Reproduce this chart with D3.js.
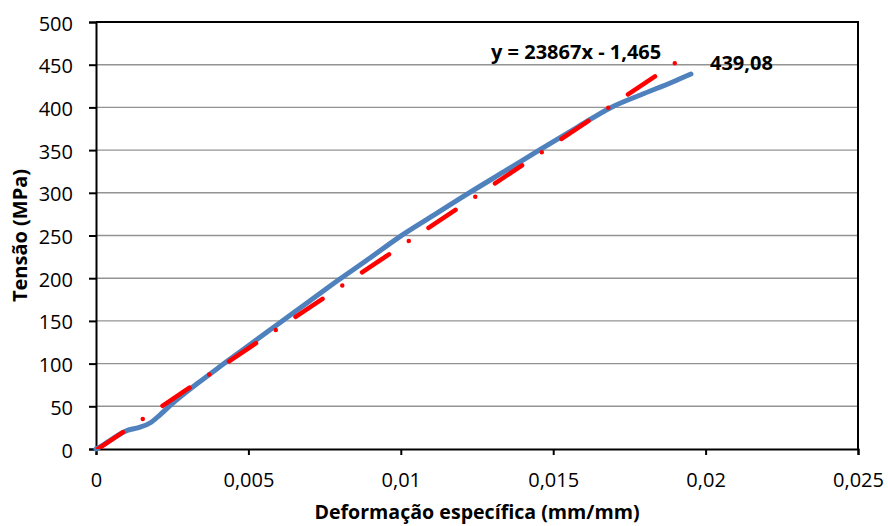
<!DOCTYPE html>
<html>
<head>
<meta charset="utf-8">
<script src="https://cdn.jsdelivr.net/npm/d3@7"></script>
<style>
  body { margin: 0; background: #fff; }
  svg { display: block; font-family: 'Open Sans', sans-serif; }
</style>
</head>
<body>
<svg id="chart" width="888" height="526"></svg>
<script>
// strain (mm/mm) and stress (MPa)
const strain = [0, 0.0002, 0.0005, 0.00105, 0.0014, 0.0018, 0.0021, 0.0025, 0.0033, 0.0042,
  0.005, 0.006, 0.007, 0.008, 0.009, 0.0099, 0.011, 0.0122, 0.0134, 0.0145,
  0.0158, 0.0169, 0.018, 0.0189, 0.01952];
const stress = [0, 4, 11, 22, 25, 31, 40, 53, 76, 100,
  121, 147, 173, 199, 224, 247, 272, 299, 325, 349,
  377, 400, 416.5, 429.5, 439.08];

// linear trendline shown on the chart
const trendSlope = 23867;
const trendIntercept = -1.465;
const trendLabel = 'y = 23867x - 1,465';
const maxLabel = '439,08';

const xTicks = [0, 0.005, 0.01, 0.015, 0.02, 0.025];
const xTickLabels = ['0', '0,005', '0,01', '0,015', '0,02', '0,025'];
const yTicks = [0, 50, 100, 150, 200, 250, 300, 350, 400, 450, 500];

const xTitle = 'Deformação específica (mm/mm)';
const yTitle = 'Tensão (MPa)';

const width = 888;
const height = 526;
const margin = { top: 22, right: 30, bottom: 77, left: 96 };

const svg = d3.select('#chart');

const x = d3
  .scaleLinear()
  .domain([0, 0.025])
  .range([margin.left, width - margin.right]);
const y = d3
  .scaleLinear()
  .domain([0, 500])
  .range([height - margin.bottom, margin.top]);

svg
  .append('defs')
  .append('clipPath')
  .attr('id', 'plotClip')
  .append('rect')
  .attr('x', margin.left)
  .attr('y', margin.top)
  .attr('width', x(0.025) - margin.left)
  .attr('height', y(0) - margin.top);

// gridlines
svg
  .append('g')
  .selectAll('line')
  .data(yTicks.filter(d => d > 0 && d < 500))
  .join('line')
  .attr('x1', x(0))
  .attr('x2', x(0.025))
  .attr('y1', d => y(d))
  .attr('y2', d => y(d))
  .style('stroke', '#939393')
  .style('stroke-width', 1.4);

// frame (top and right)
svg
  .append('path')
  .attr('d', `M${x(0)},${y(500)}H${x(0.025)}V${y(0)}`)
  .style('fill', 'none')
  .style('stroke', '#000')
  .style('stroke-width', 2);

// axes
const yAxis = svg
  .append('g')
  .attr('transform', `translate(${x(0)},0)`)
  .call(d3.axisLeft(y).tickValues(yTicks).tickSize(7).tickFormat(d => d));
const xAxis = svg
  .append('g')
  .attr('transform', `translate(0,${y(0)})`)
  .call(
    d3
      .axisBottom(x)
      .tickValues(xTicks)
      .tickSize(6)
      .tickFormat((d, i) => xTickLabels[i])
  );

[xAxis, yAxis].forEach(g => {
  g.select('.domain').style('stroke', '#000').style('stroke-width', 2);
  g.selectAll('.tick line').style('stroke', '#000').style('stroke-width', 2);
  g.selectAll('.tick text')
    .style('font-family', "'Open Sans', sans-serif")
    .style('font-size', '20px')
    .attr('fill', '#000');
});
yAxis.selectAll('.tick text').attr('x', -23).attr('dy', 8);
xAxis.selectAll('.tick text').attr('y', 38).attr('dy', 0);

// measured curve
const curve = d3
  .line()
  .x(d => x(d[0]))
  .y(d => y(d[1]))
  .curve(d3.curveMonotoneX);

svg
  .append('path')
  .datum(strain.map((s, i) => [s, stress[i]]))
  .attr('d', curve)
  .style('fill', 'none')
  .style('stroke', '#4F81BD')
  .style('stroke-width', 5)
  .style('stroke-linecap', 'round')
  .style('stroke-linejoin', 'round');

// trendline, dash-dot
const xExt = d3.extent(strain);
svg
  .append('path')
  .datum(xExt.map(v => [v, trendSlope * v + trendIntercept]))
  .attr('d', d3.line().x(d => x(d[0])).y(d => y(d[1])))
  .attr('clip-path', 'url(#plotClip)')
  .style('fill', 'none')
  .style('stroke', '#FF0000')
  .style('stroke-width', 4.5)
  .style('stroke-linecap', 'round')
  .style('stroke-dasharray', '32.5,23.75,0,23.75');

// labels
svg
  .append('text')
  .attr('x', 491)
  .attr('y', 59)
  .style('font-size', '20px')
  .style('font-weight', 'bold')
  .text(trendLabel);

svg
  .append('text')
  .attr('x', 710)
  .attr('y', 70)
  .style('font-size', '20px')
  .style('font-weight', 'bold')
  .text(maxLabel);

// axis titles
svg
  .append('text')
  .attr('x', (x(0) + x(0.025)) / 2)
  .attr('y', 519)
  .attr('text-anchor', 'middle')
  .style('font-size', '19.6px')
  .style('font-weight', 'bold')
  .text(xTitle);

svg
  .append('text')
  .attr('transform', `translate(27,${(y(0) + y(500)) / 2}) rotate(-90)`)
  .attr('text-anchor', 'middle')
  .style('font-size', '20px')
  .style('font-weight', 'bold')
  .text(yTitle);
</script>
</body>
</html>
